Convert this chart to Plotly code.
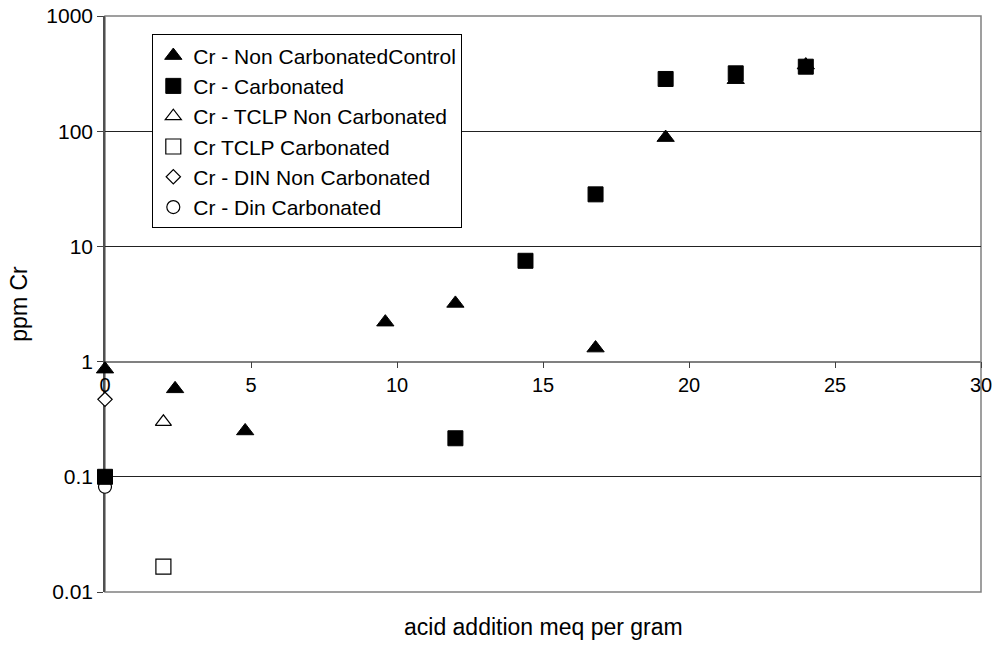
import plotly.graph_objects as go

# Acid addition (meq/g) and chromium concentration (ppm) for each leach series
ctrl_x = [0, 2.4, 4.8, 9.6, 12.0, 16.8, 19.2, 21.6, 24.0]
ctrl_y = [0.86, 0.58, 0.25, 2.2, 3.2, 1.31, 88, 280, 375]

carb_x = [0, 12.0, 14.4, 16.8, 19.2, 21.6, 24.0]
carb_y = [0.10, 0.216, 7.5, 28.3, 284, 318, 363]

tclp_nc_x = [2.0]
tclp_nc_y = [0.30]

tclp_c_x = [2.0]
tclp_c_y = [0.0166]

din_nc_x = [0]
din_nc_y = [0.47]

din_c_x = [0]
din_c_y = [0.082]

y_ticks = [0.01, 0.1, 1, 10, 100, 1000]
y_tick_text = ["0.01", "0.1", "1", "10", "100", "1000"]
x_ticks = [0, 5, 10, 15, 20, 25, 30]

FONT = "Liberation Sans, Arial, sans-serif"

fig = go.Figure()

# open-symbol series go underneath the filled ones
fig.add_trace(go.Scatter(
    x=din_c_x, y=din_c_y, mode="markers", name="Cr - Din Carbonated",
    legendrank=6, cliponaxis=False,
    marker=dict(symbol="circle", size=13, color="white",
                line=dict(color="black", width=1.2))))
fig.add_trace(go.Scatter(
    x=din_nc_x, y=din_nc_y, mode="markers", name="Cr - DIN Non Carbonated",
    legendrank=5, cliponaxis=False,
    marker=dict(symbol="diamond", size=11, color="white",
                line=dict(color="black", width=1.2))))
fig.add_trace(go.Scatter(
    x=tclp_c_x, y=tclp_c_y, mode="markers", name="Cr TCLP Carbonated",
    legendrank=4, cliponaxis=False,
    marker=dict(symbol="square", size=15, color="white",
                line=dict(color="black", width=1.2))))
fig.add_trace(go.Scatter(
    x=tclp_nc_x, y=tclp_nc_y, mode="markers", name="Cr - TCLP Non Carbonated",
    legendrank=3, cliponaxis=False,
    marker=dict(symbol="triangle-up", size=14, color="white",
                line=dict(color="black", width=1.2))))
fig.add_trace(go.Scatter(
    x=ctrl_x, y=ctrl_y, mode="markers", name="Cr - Non CarbonatedControl",
    legendrank=1, cliponaxis=False,
    marker=dict(symbol="triangle-up", size=15, color="black",
                line=dict(color="black", width=1))))
fig.add_trace(go.Scatter(
    x=carb_x, y=carb_y, mode="markers", name="Cr - Carbonated",
    legendrank=2, cliponaxis=False,
    marker=dict(symbol="square", size=15, color="black",
                line=dict(color="black", width=1))))

fig.update_layout(
    width=995, height=648,
    margin=dict(l=105, r=14, t=16, b=56, autoexpand=False),
    paper_bgcolor="white", plot_bgcolor="white",
    font=dict(family=FONT, size=20, color="black"),
    showlegend=True,
    legend=dict(
        x=0.054, y=0.968, xanchor="left", yanchor="top",
        bgcolor="white", bordercolor="black", borderwidth=1,
        font=dict(family=FONT, size=21, color="black"),
        itemwidth=30, tracegroupgap=0,
    ),
    xaxis=dict(
        range=[0, 30], tickvals=x_ticks,
        anchor="free", position=0.4, automargin=False,
        layer="below traces",
        showline=True, linecolor="#808080", linewidth=1.5,
        ticks="outside", ticklen=6, tickcolor="#404040",
        showgrid=False, zeroline=False,
        tickfont=dict(family=FONT, size=20, color="black"),
    ),
    yaxis=dict(
        type="log", range=[-2, 3], automargin=False,
        layer="below traces",
        tickvals=y_ticks, ticktext=y_tick_text,
        showline=True, linecolor="#505050", linewidth=1.5,
        ticks="outside", ticklen=6, tickcolor="#404040",
        showgrid=True, gridcolor="#222222", gridwidth=1,
        zeroline=False,
        tickfont=dict(family=FONT, size=21, color="black"),
        title=dict(text="ppm Cr", font=dict(family=FONT, size=23, color="black"),
                   standoff=12),
    ),
    shapes=[dict(type="rect", xref="paper", yref="paper",
                 x0=0, x1=1, y0=0, y1=1,
                 line=dict(color="#808080", width=1.5), layer="below")],
    annotations=[dict(text="acid addition meq per gram", xref="paper", yref="paper",
                      x=0.5, y=-0.061, xanchor="center", yanchor="middle",
                      showarrow=False,
                      font=dict(family=FONT, size=23, color="black"))],
)

fig.write_html("out.html")
